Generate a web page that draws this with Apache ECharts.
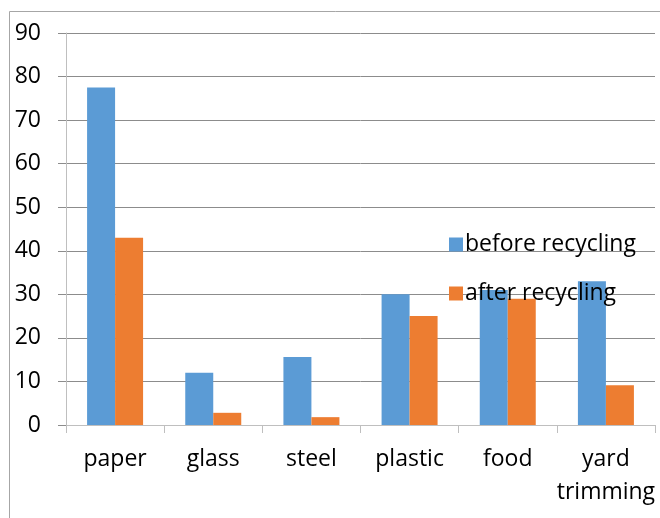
<!DOCTYPE html>
<html>
<head>
<meta charset="utf-8">
<script src="https://cdn.jsdelivr.net/npm/echarts@6/dist/echarts.min.js"></script>
<style>
  html, body { margin: 0; padding: 0; background: #fff; }
  #chart { width: 660px; height: 518px; }
</style>
</head>
<body>
<div id="chart"></div>
<script>
// data
const categories = ['paper', 'glass', 'steel', 'plastic', 'food', 'yard trimming']
const beforeRecycling = [77.5, 12, 15.6, 30, 31, 33]
const afterRecycling = [43, 2.8, 1.8, 25, 29, 9.1]
const seriesNames = ['before recycling', 'after recycling']

const chart = echarts.init(document.getElementById('chart'))

const font = '"Open Sans", sans-serif'

const option = {
  animation: false,
  textStyle: { fontFamily: font },
  graphic: [
    {
      type: 'rect',
      shape: { x: 9.5, y: 11.5, width: 700, height: 600 },
      style: { fill: 'none', stroke: '#a6a6a6', lineWidth: 1 },
      silent: true
    }
  ],
  legend: {
    data: seriesNames,
    orient: 'vertical',
    left: 444,
    top: 228,
    itemWidth: 14,
    itemHeight: 14,
    itemGap: 26,
    icon: 'rect',
    textStyle: { fontSize: 23, color: '#000', fontFamily: font, padding: [0, 0, 0, -3] }
  },
  grid: {
    left: 66,
    right: 5,
    top: 33,
    bottom: 93
  },
  xAxis: {
    type: 'category',
    data: categories,
    axisLine: { show: true, lineStyle: { color: '#bfbfbf', width: 1 } },
    axisTick: { show: true, length: 8, lineStyle: { color: '#bfbfbf' } },
    axisLabel: {
      fontSize: 23,
      color: '#000',
      margin: 18,
      lineHeight: 33,
      interval: 0,
      formatter: v => v.replace(' ', '\n')
    }
  },
  yAxis: {
    type: 'value',
    min: 0,
    max: 90,
    interval: 10,
    axisLine: { show: true, lineStyle: { color: '#bfbfbf', width: 1 } },
    axisTick: { show: true, length: 8, lineStyle: { color: '#8c8c8c' } },
    axisLabel: { fontSize: 23, color: '#000', margin: 25 },
    splitLine: { show: true, lineStyle: { color: '#8c8c8c', width: 1 } }
  },
  series: [
    {
      name: seriesNames[0],
      type: 'bar',
      data: beforeRecycling,
      barWidth: 28,
      barGap: 0,
      itemStyle: { color: '#5b9bd5' }
    },
    {
      name: seriesNames[1],
      type: 'bar',
      data: afterRecycling,
      barWidth: 28,
      barGap: 0,
      itemStyle: { color: '#ed7d31' }
    }
  ]
}

chart.setOption(option)
</script>
</body>
</html>
